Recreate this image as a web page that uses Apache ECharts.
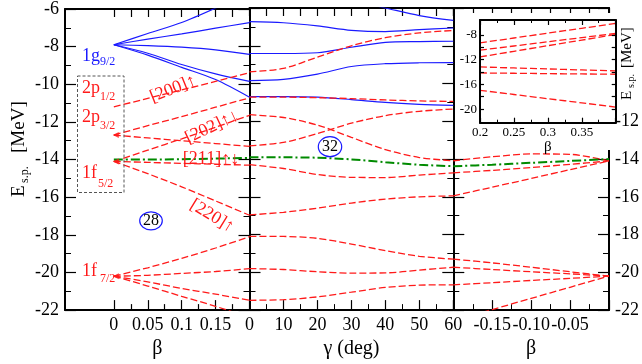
<!DOCTYPE html>
<html>
<head>
<meta charset="utf-8">
<script src="https://cdn.jsdelivr.net/npm/echarts@6/dist/echarts.min.js"></script>
<style>
html,body{margin:0;padding:0;background:#fff;}
#chart{width:642px;height:364px;}
</style>
</head>
<body>
<div id="chart"></div>
<script>
// x values of each panel
var betaLeft  = [0, 0.05, 0.1, 0.15, 0.2];
var gammaDeg  = [0, 10, 20, 30, 40, 50, 60];
var betaRight = [-0.2, -0.15, -0.1, -0.05, 0];
var betaInset = [0.2, 0.25, 0.3, 0.35, 0.4];

// left panel (prolate, gamma = 0)
var blueLeft = [
    [-7.9, -7.3, -6.72, -5.95, -5.1],
    [-7.9, -7.6, -7.32, -7.02, -6.72],
    [-7.9, -7.95, -8.03, -8.17, -8.41],
    [-7.9, -8.35, -8.95, -9.45, -9.85],
    [-7.9, -8.45, -9.1, -9.75, -10.69]
];
var redLeft = [
    [-11.2, -10.75, -10.3, -9.85, -9.38],
    [-12.7, -12.2, -11.72, -11.22, -10.72],
    [-12.7, -12.85, -13.0, -13.15, -13.3],
    [-14.1, -13.5, -12.9, -12.28, -11.65],
    [-14.1, -14.15, -14.2, -14.25, -14.3],
    [-14.1, -14.75, -15.45, -16.2, -16.96],
    [-20.2, -19.75, -19.25, -18.7, -18.1],
    [-20.2, -20.15, -20.05, -19.95, -19.8],
    [-20.2, -20.5, -20.85, -21.15, -21.48],
    [-20.2, -20.72, -21.27, -21.8, -22.4]
];
var fermiLeft = [-14.0, -14.0, -13.98, -13.95, -13.91];

// middle panel (gamma 0..60 at beta = 0.2)
var blueMid = [
    [-5.1, -5.15, -5.3, -5.6, -6.0, -6.4, -6.66],
    [-6.72, -6.78, -6.95, -7.18, -7.25, -7.15, -7.06],
    [-8.41, -8.41, -8.37, -8.08, -7.82, -7.78, -7.76],
    [-9.85, -9.78, -9.5, -9.1, -8.95, -8.9, -8.89],
    [-10.69, -10.69, -10.72, -10.85, -11.0, -11.1, -11.16]
];
var redMid = [
    [-9.38, -9.2, -8.6, -8.0, -7.57, -7.32, -7.19],
    [-10.72, -10.72, -10.75, -10.8, -10.87, -10.92, -10.95],
    [-11.65, -11.8, -12.2, -12.85, -13.5, -13.92, -14.09],
    [-13.3, -13.12, -12.65, -12.1, -11.7, -11.47, -11.35],
    [-14.3, -14.5, -14.82, -14.97, -14.98, -14.85, -14.73],
    [-16.96, -16.82, -16.6, -16.33, -16.12, -16.0, -15.95],
    [-18.1, -18.1, -18.2, -18.5, -18.85, -19.15, -19.3],
    [-19.8, -19.85, -19.97, -20.04, -20.03, -19.88, -19.73],
    [-21.48, -21.45, -21.3, -21.05, -20.8, -20.68, -20.66]
];
var fermiMid = [-13.91, -13.91, -13.93, -14.02, -14.17, -14.3, -14.38];

// right panel (oblate)
var redRight = [
    [-14.09, -13.88, -13.73, -13.75, -14.1],
    [-14.73, -14.6, -14.45, -14.28, -14.1],
    [-15.95, -15.49, -15.03, -14.56, -14.1],
    [-19.3, -19.5, -19.73, -19.97, -20.2],
    [-19.73, -19.85, -19.97, -20.08, -20.2],
    [-20.66, -20.55, -20.43, -20.32, -20.2],
    [-22.56, -21.97, -21.38, -20.79, -20.2]
];
var fermiRight = [-14.38, -14.3, -14.2, -14.1, -14.0];

// inset, larger deformation
var redInset = [
    [-9.3, -8.51, -7.72, -6.94, -6.15],
    [-10.48, -9.8, -9.12, -8.45, -7.77],
    [-11.56, -10.66, -9.75, -8.85, -7.94],
    [-13.19, -13.35, -13.51, -13.67, -13.83],
    [-14.16, -14.21, -14.27, -14.32, -14.37],
    [-16.96, -17.64, -18.32, -18.99, -19.67]
];

// spherical levels marked with small arrows
var sphMarks = [-12.7, -14.1, -20.2];

// tick labels
var leftTicks = [0, 0.05, 0.1, 0.15];
var leftMinor = [0.025, 0.075, 0.125, 0.175];
var insetYLabels = [-8, -12, -16, -20];
var insetYTicks = [-20, -18, -16, -14, -12, -10, -8];

var RED = '#ff1a1a', BLUE = '#1a1aff', GREEN = '#008a00';
var FONT = 'Liberation Serif';

function pairs(xs, ys){
    return xs.map(function(x, i){ return [x, ys[i]]; });
}

var series = [];
function addLines(xs, list, xi, yi, kind, z){
    list.forEach(function(ys){
        var ls;
        if(kind == 'red') ls = {color: RED, width: 1.3, type: [7, 3]};
        else if(kind == 'blue') ls = {color: BLUE, width: 1.2};
        else ls = {color: GREEN, width: 2, type: [9, 3, 2, 3]};
        series.push({
            type: 'line', xAxisIndex: xi, yAxisIndex: yi,
            data: pairs(xs, ys), symbol: 'none', smooth: 0.3,
            lineStyle: ls, z: z || 2, silent: true
        });
    });
}
addLines(betaLeft, blueLeft, 0, 0, 'blue');
addLines(betaLeft, redLeft, 0, 0, 'red');
addLines(betaLeft, [fermiLeft], 0, 0, 'green');
addLines(gammaDeg, blueMid, 3, 2, 'blue');
addLines(gammaDeg, redMid, 3, 2, 'red');
addLines(gammaDeg, [fermiMid], 3, 2, 'green');
addLines(betaRight, redRight, 5, 4, 'red');
addLines(betaRight, [fermiRight], 5, 4, 'green');
addLines(betaInset, redInset, 7, 6, 'red', 8);

series.push({
    type: 'scatter', xAxisIndex: 0, yAxisIndex: 0,
    data: sphMarks.map(function(e){ return [0, e]; }),
    symbol: 'triangle', symbolRotate: 90, symbolSize: [6, 6], symbolOffset: [2, 0],
    itemStyle: {color: RED}, z: 3
});

var axLine = {onZero: false, lineStyle: {color: '#000', width: 2}};
var noLine = {show: false, onZero: false};
function tick(len, vals){
    var t = {inside: true, length: len, lineStyle: {color: '#000', width: 1.2}};
    if(vals) t.customValues = vals;
    return t;
}
function minor(len){
    return {show: true, splitNumber: 2, length: len, lineStyle: {color: '#000', width: 1}};
}
function lab(extra){
    var o = {color: '#000', fontFamily: FONT, fontSize: 18, margin: 6};
    for(var k in extra) o[k] = extra[k];
    return o;
}
var off = {show: false};
var nameStyle = {color: '#000', fontFamily: FONT, fontSize: 20};

var xAxes = [
    {gridIndex: 0, type: 'value', min: -0.072, max: 0.2, position: 'bottom',
     axisLine: axLine, axisTick: tick(10, leftTicks), axisLabel: lab({customValues: leftTicks}),
     splitLine: off, name: 'β', nameLocation: 'middle', nameGap: 22, nameTextStyle: nameStyle},
    {gridIndex: 0, type: 'value', min: -0.072, max: 0.2, position: 'bottom',
     axisLine: noLine, axisTick: tick(6, leftMinor), axisLabel: off, splitLine: off},
    {gridIndex: 0, type: 'value', min: -0.072, max: 0.2, position: 'top',
     axisLine: axLine, axisTick: tick(8, leftTicks.concat(leftMinor)), axisLabel: off, splitLine: off},
    {gridIndex: 1, type: 'value', min: 0, max: 60, interval: 10, position: 'bottom',
     axisLine: axLine, axisTick: tick(10), minorTick: minor(6), axisLabel: lab({}),
     splitLine: off, minorSplitLine: off,
     name: 'γ (deg)', nameLocation: 'middle', nameGap: 22, nameTextStyle: nameStyle},
    {gridIndex: 1, type: 'value', min: 0, max: 60, interval: 5, position: 'top',
     axisLine: axLine, axisTick: tick(8), axisLabel: off, splitLine: off},
    {gridIndex: 2, type: 'value', min: -0.2, max: 0, interval: 0.05, position: 'bottom',
     axisLine: axLine, axisTick: tick(10), minorTick: minor(6), splitLine: off,
     axisLabel: lab({formatter: function(v){ return (v > -0.19 && v < -0.01) ? v.toFixed(2) : ''; }}),
     name: 'β', nameLocation: 'middle', nameGap: 22, nameTextStyle: nameStyle},
    {gridIndex: 2, type: 'value', min: -0.2, max: 0, interval: 0.025, position: 'top',
     axisLine: axLine, axisTick: tick(8), axisLabel: off, splitLine: off},
    {gridIndex: 3, type: 'value', min: 0.2, max: 0.4, interval: 0.05, position: 'bottom', z: 10,
     axisLine: axLine, axisTick: tick(5), minorTick: minor(3), splitLine: off,
     axisLabel: lab({fontSize: 13, margin: 3, formatter: function(v){ return v > 0.39 ? '' : String(+v.toFixed(2)); }}),
     name: 'β', nameLocation: 'middle', nameGap: 11,
     nameTextStyle: {color: '#000', fontFamily: FONT, fontSize: 15}},
    {gridIndex: 3, type: 'value', min: 0.2, max: 0.4, interval: 0.05, position: 'top', z: 10,
     axisLine: axLine, axisTick: tick(5), minorTick: minor(3), axisLabel: off, splitLine: off}
];

function yAx(grid, pos, label){
    return {gridIndex: grid, type: 'value', min: -22, max: -6, interval: 2, position: pos,
            axisLine: axLine, axisTick: tick(11), minorTick: minor(6),
            axisLabel: label || off, splitLine: off, minorSplitLine: off};
}
var yAxes = [
    yAx(0, 'left', lab({})),
    yAx(0, 'right'),
    yAx(1, 'left'),
    yAx(1, 'right'),
    yAx(2, 'left'),
    yAx(2, 'right', lab({formatter: function(v){ return v <= -12 ? String(v) : ''; }})),
    {gridIndex: 3, type: 'value', min: -22.2, max: -5.6, position: 'left', z: 10,
     axisLine: axLine, axisTick: tick(4, insetYTicks),
     axisLabel: lab({fontSize: 13, margin: 3, customValues: insetYLabels}), splitLine: off},
    {gridIndex: 3, type: 'value', min: -22.2, max: -5.6, position: 'right', z: 10,
     axisLine: axLine, axisTick: tick(4, insetYTicks), axisLabel: off, splitLine: off}
];

function txt(x, y, s, size, color, extra){
    var el = {type: 'text', x: x, y: y, z: 6, silent: true,
        style: {text: s, fontSize: size, fontFamily: FONT, fill: color,
                align: 'left', textAlign: 'left', verticalAlign: 'middle', textVerticalAlign: 'middle'}};
    if(extra){
        for(var k in extra){
            if(k == 'style'){ for(var j in extra.style) el.style[j] = extra.style[j]; }
            else el[k] = extra[k];
        }
    }
    return el;
}
var mid = {style: {align: 'center', textAlign: 'center'}};

// axis titles E_s.p. [MeV]
function yTitle(x, y, big, small, gapSub, gapMeV){
    return {type: 'group', x: x, y: y, rotation: Math.PI / 2, z: 6, children: [
        txt(0, 0, 'E', big, '#000'),
        txt(gapSub, big * 0.3, 's.p.', small, '#000'),
        txt(gapMeV, 0, '[MeV]', big, '#000')
    ]};
}

var graphics = [
    {type: 'rect', z: 5, silent: true, shape: {x: 455, y: 13, width: 159, height: 137},
     style: {fill: '#fff'}},
    {type: 'rect', z: 6, silent: true, shape: {x: 77.5, y: 76, width: 46.5, height: 116.5},
     style: {fill: 'none', stroke: '#555', lineWidth: 1, lineDash: [3, 2]}},
    txt(82, 56, '1g', 18, BLUE), txt(100, 62, '9/2', 12, BLUE),
    txt(82, 88.5, '2p', 18, RED), txt(100, 96.5, '1/2', 12, RED),
    txt(82, 117, '2p', 18, RED), txt(100, 126, '3/2', 12, RED),
    txt(82, 173, '1f', 18, RED), txt(98, 184, '5/2', 12, RED),
    txt(82, 271, '1f', 18, RED), txt(100, 279, '7/2', 12, RED),
    txt(173, 89, '[200]↑', 18, RED, {rotation: 0.38, style: {align: 'center', textAlign: 'center'}}),
    txt(212, 127, '[202]↑↓', 18, RED, {rotation: 0.44, style: {align: 'center', textAlign: 'center'}}),
    txt(211, 159.5, '[211]↑↓', 18, RED, mid),
    txt(212, 216, '[220]↑', 18, RED, {rotation: -0.55, style: {align: 'center', textAlign: 'center'}}),
    {type: 'ellipse', z: 6, silent: true, shape: {cx: 151, cy: 220.8, rx: 11.3, ry: 9},
     style: {fill: 'none', stroke: BLUE, lineWidth: 1.2}},
    txt(151, 221, '28', 16, '#000', mid),
    {type: 'ellipse', z: 6, silent: true, shape: {cx: 330, cy: 146.7, rx: 11.7, ry: 10},
     style: {fill: 'none', stroke: BLUE, lineWidth: 1.2}},
    txt(330, 147, '32', 16, '#000', mid),
    yTitle(19, 197, 19, 12, 14, 44),
    yTitle(627, 100, 15, 10, 12, 32)
];

var chart = echarts.init(document.getElementById('chart'));
chart.setOption({
    animation: false,
    backgroundColor: '#fff',
    grid: [
        {left: 65, top: 8, width: 184.5, height: 306},
        {left: 249.5, top: 8, width: 203.8, height: 306},
        {left: 453.3, top: 8, width: 162.7, height: 306},
        {left: 480, top: 20, width: 135.7, height: 102.7}
    ],
    xAxis: xAxes,
    yAxis: yAxes,
    series: series,
    graphic: {elements: graphics}
});
</script>
</body>
</html>
